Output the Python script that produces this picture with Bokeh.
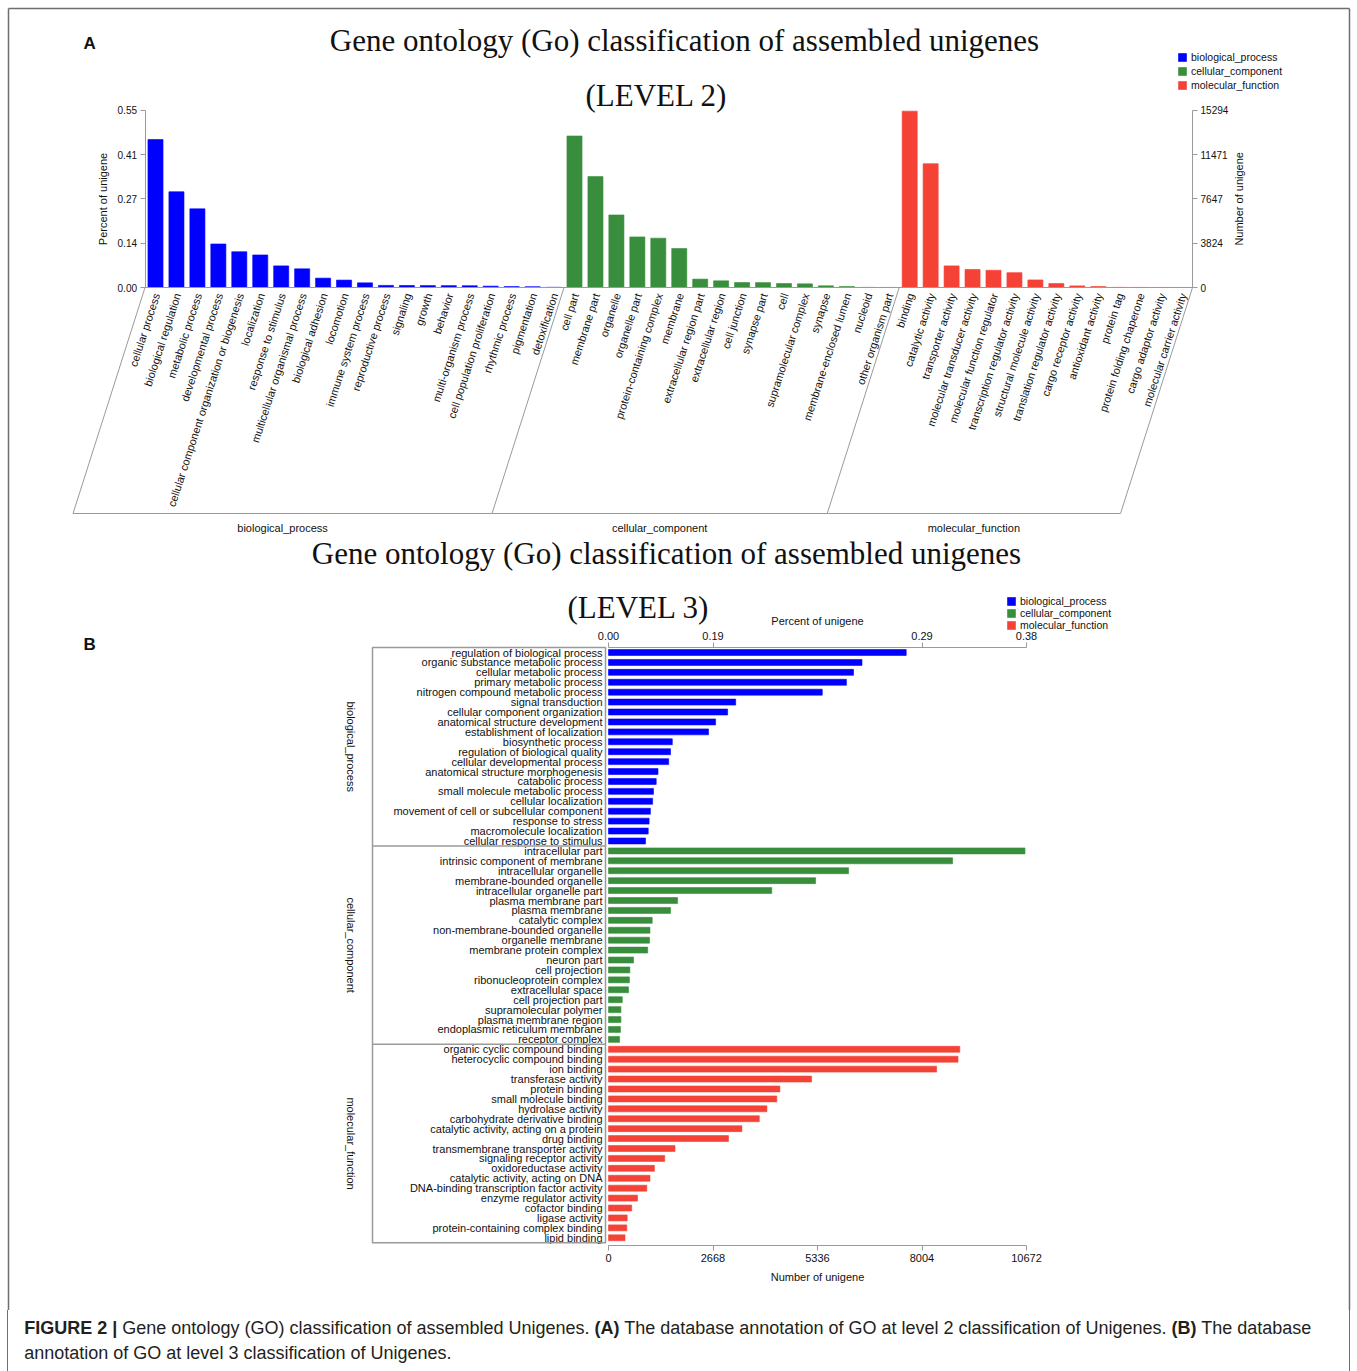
import numpy as np
from bokeh.plotting import figure
from bokeh.models import (Range1d, LinearAxis, FixedTicker, ColumnDataSource,
                          Legend, LegendItem, Div)
from bokeh.layouts import column
from bokeh.embed import file_html
from bokeh.resources import INLINE
from bokeh.core.properties import value

# ------------------------------------------------------------------ data
group_names = ["biological_process", "cellular_component", "molecular_function"]

# Level 2 (percent of unigene)
l2_bp_terms = ["cellular process", "biological regulation", "metabolic process",
               "developmental process", "cellular component organization or biogenesis",
               "localization", "response to stimulus", "multicellular organismal process",
               "biological adhesion", "locomotion", "immune system process",
               "reproductive process", "signaling", "growth", "behavior",
               "multi-organism process", "cell population proliferation",
               "rhythmic process", "pigmentation", "detoxification"]
l2_bp_pct = [0.459, 0.297, 0.244, 0.135, 0.111, 0.101, 0.067, 0.058, 0.029, 0.023,
             0.0145, 0.0065, 0.0063, 0.006, 0.0058, 0.0055, 0.0042, 0.003, 0.0025, 0.0006]

l2_cc_terms = ["cell part", "membrane part", "organelle", "organelle part",
               "protein-containing complex", "membrane", "extracellular region part",
               "extracellular region", "cell junction", "synapse part", "cell",
               "supramolecular complex", "synapse", "membrane-enclosed lumen",
               "nucleoid", "other organism part"]
l2_cc_pct = [0.470, 0.344, 0.225, 0.157, 0.153, 0.121, 0.026, 0.0207, 0.0155, 0.0152,
             0.0124, 0.0114, 0.0053, 0.0031, 0.0004, 0.0002]

l2_mf_terms = ["binding", "catalytic activity", "transporter activity",
               "molecular transducer activity", "molecular function regulator",
               "transcription regulator activity", "structural molecule activity",
               "translation regulator activity", "cargo receptor activity",
               "antioxidant activity", "protein tag", "protein folding chaperone",
               "cargo adaptor activity", "molecular carrier activity"]
l2_mf_pct = [0.547, 0.384, 0.067, 0.056, 0.0535, 0.046, 0.0235, 0.0124, 0.005, 0.003,
             0.0004, 0.0003, 0.0002, 0.0001]

l2_pct_ticks = [0.0, 0.1375, 0.275, 0.4125, 0.55]
l2_pct_tick_labels = ["0.00", "0.14", "0.27", "0.41", "0.55"]
l2_count_ticks = [0, 3824, 7647, 11471, 15294]

# Level 3 (number of unigene)
l3_bp_terms = ["regulation of biological process", "organic substance metabolic process",
               "cellular metabolic process", "primary metabolic process",
               "nitrogen compound metabolic process", "signal transduction",
               "cellular component organization", "anatomical structure development",
               "establishment of localization", "biosynthetic process",
               "regulation of biological quality", "cellular developmental process",
               "anatomical structure morphogenesis", "catabolic process",
               "small molecule metabolic process", "cellular localization",
               "movement of cell or subcellular component", "response to stress",
               "macromolecule localization", "cellular response to stimulus"]
l3_bp_counts = [7601, 6472, 6255, 6074, 5458, 3247, 3041, 2734, 2553, 1629,
                1583, 1537, 1264, 1218, 1149, 1126, 1070, 1037, 1014, 945]

l3_cc_terms = ["intracellular part", "intrinsic component of membrane",
               "intracellular organelle", "membrane-bounded organelle",
               "intracellular organelle part", "plasma membrane part", "plasma membrane",
               "catalytic complex", "non-membrane-bounded organelle", "organelle membrane",
               "membrane protein complex", "neuron part", "cell projection",
               "ribonucleoprotein complex", "extracellular space", "cell projection part",
               "supramolecular polymer", "plasma membrane region",
               "endoplasmic reticulum membrane", "receptor complex"]
l3_cc_counts = [10633, 8785, 6130, 5287, 4169, 1764, 1583, 1116, 1059, 1047,
                1001, 638, 546, 534, 511, 352, 317, 317, 306, 283]

l3_mf_terms = ["organic cyclic compound binding", "heterocyclic compound binding",
               "ion binding", "transferase activity", "protein binding",
               "small molecule binding", "hydrolase activity",
               "carbohydrate derivative binding", "catalytic activity, acting on a protein",
               "drug binding", "transmembrane transporter activity",
               "signaling receptor activity", "oxidoreductase activity",
               "catalytic activity, acting on DNA",
               "DNA-binding transcription factor activity", "enzyme regulator activity",
               "cofactor binding", "ligase activity", "protein-containing complex binding",
               "lipid binding"]
l3_mf_counts = [8969, 8923, 8377, 5185, 4376, 4297, 4044, 3850, 3406, 3064,
                1698, 1435, 1172, 1059, 978, 740, 592, 477, 467, 421]

l3_count_ticks = [0, 2668, 5336, 8004, 10672]
l3_pct_ticks = [0.0, 0.095, 0.285, 0.38]
l3_pct_tick_labels = ["0.00", "0.19", "0.29", "0.38"]

title_text = "Gene ontology (Go) classification of assembled unigenes"

# ------------------------------------------------------------------ style / layout
W, H = 1357, 1310
COLORS = ["#0000FF", "#388E3C", "#F44336"]
GREY = "#9a9a9a"
FRAME = "#6e6e6e"
SANS = "Liberation Sans"
SERIF = "Liberation Serif"

p = figure(width=W, height=H, x_range=Range1d(0, W), y_range=Range1d(H, 0),
           x_axis_type=None, y_axis_type=None, output_backend="svg",
           toolbar_location=None, min_border=0, outline_line_color=None,
           background_fill_color="white", border_fill_color="white")

# outer frame of the figure (open at the bottom, continues around the caption)
p.segment(x0=[8, 8, 1349], y0=[8, 8, 8], x1=[1349, 8, 1349], y1=[8, H, H],
          line_color=FRAME, line_width=1.5)


def style_axis(ax, label_size="10px"):
    ax.axis_line_color = GREY
    ax.major_tick_line_color = GREY
    ax.minor_tick_line_color = None
    ax.major_tick_out = 5
    ax.major_tick_in = 0
    ax.major_label_text_font = SANS
    ax.major_label_text_font_size = label_size
    ax.major_label_text_color = "#111111"
    ax.major_label_standoff = 3
    ax.axis_label_text_font = SANS
    ax.axis_label_text_font_size = "11px"
    ax.axis_label_text_font_style = "normal"
    ax.axis_label_text_color = "#111111"


# ================================================================ panel A
A_x0, A_dx = 155.0, 20.95        # px of first category centre, px per category
A_y0, A_ppu = 287.0, 322.4       # px of zero, px per unit of percent
A_ybot_px, A_skew_px = 513.0, 72.0

pct_lo, pct_hi = (A_y0 - H) / A_ppu, A_y0 / A_ppu
kA = l2_count_ticks[-1] / l2_pct_ticks[-1]
p.extra_x_ranges = {"catA": Range1d(-A_x0 / A_dx, (W - A_x0) / A_dx)}
p.extra_y_ranges = {"pctA": Range1d(pct_lo, pct_hi),
                    "cntA": Range1d(pct_lo * kA, pct_hi * kA)}

l2_groups = [(l2_bp_terms, l2_bp_pct), (l2_cc_terms, l2_cc_pct), (l2_mf_terms, l2_mf_pct)]
rendA = []
bnd = [-0.5]
off = 0
for (terms, vals), col in zip(l2_groups, COLORS):
    xs = list(range(off, off + len(terms)))
    src = ColumnDataSource(dict(x=xs, top=vals, label=terms, y=[0.0] * len(xs)))
    r = p.vbar(x="x", top="top", bottom=0, width=0.72, source=src, fill_color=col,
               line_color=col, line_alpha=0.6, x_range_name="catA", y_range_name="pctA")
    rendA.append(r)
    p.text(x="x", y="y", text="label", source=src, angle=np.deg2rad(72),
           text_align="right", text_baseline="middle", x_offset=1, y_offset=6,
           text_font=value(SANS), text_font_size="11px", text_color="#111111",
           x_range_name="catA", y_range_name="pctA")
    off += len(terms)
    bnd.append(off - 0.5)

yb = (A_y0 - A_ybot_px) / A_ppu
sk = A_skew_px / A_dx
p.segment(x0=bnd, y0=[0.0] * len(bnd), x1=[b - sk for b in bnd], y1=[yb] * len(bnd),
          line_color=GREY, line_width=1, x_range_name="catA", y_range_name="pctA")
p.segment(x0=[bnd[0], bnd[0] - sk], y0=[0.0, yb], x1=[bnd[-1], bnd[-1] - sk], y1=[0.0, yb],
          line_color=GREY, line_width=1, x_range_name="catA", y_range_name="pctA")
p.text(x=[(bnd[i] + bnd[i + 1]) / 2 - sk for i in range(3)], y=[yb] * 3, text=group_names,
       y_offset=14, text_align="center", text_baseline="middle",
       text_font=value(SANS), text_font_size="11px", text_color="#111111",
       x_range_name="catA", y_range_name="pctA")

axL = LinearAxis(x_range_name="catA", y_range_name="pctA", fixed_location=bnd[0],
                 bounds=(0, l2_pct_ticks[-1]), ticker=FixedTicker(ticks=l2_pct_ticks),
                 major_label_overrides=dict(zip(l2_pct_ticks, l2_pct_tick_labels)),
                 axis_label="Percent of unigene", axis_label_standoff=6)
style_axis(axL)
p.add_layout(axL, "left")

axR = LinearAxis(x_range_name="catA", y_range_name="cntA", fixed_location=bnd[-1],
                 bounds=(0, l2_count_ticks[-1]), ticker=FixedTicker(ticks=l2_count_ticks))
style_axis(axR)
p.add_layout(axR, "right")
p.text(x=[bnd[-1]], y=[l2_pct_ticks[-1] / 2], text=["Number of unigene"], x_offset=46,
       angle=np.pi / 2, text_align="center", text_baseline="middle",
       text_font=value(SANS), text_font_size="11px", text_color="#111111",
       x_range_name="catA", y_range_name="pctA")

legA = Legend(items=[LegendItem(label=n, renderers=[r]) for n, r in zip(group_names, rendA)],
              location=(1177, H - 92))

# ================================================================ panel B
B_x0 = 608.0
B_ppc = 418.0 / l3_count_ticks[-1]
B_y0, B_dy = 652.0, 9.92
kB = l3_pct_ticks[-1] / l3_count_ticks[-1]
cnt_lo, cnt_hi = -B_x0 / B_ppc, (W - B_x0) / B_ppc
p.extra_x_ranges["cntB"] = Range1d(cnt_lo, cnt_hi)
p.extra_x_ranges["pctB"] = Range1d(cnt_lo * kB, cnt_hi * kB)
p.extra_y_ranges["rowB"] = Range1d((H - B_y0) / B_dy, -B_y0 / B_dy)

l3_groups = [(l3_bp_terms, l3_bp_counts), (l3_cc_terms, l3_cc_counts),
             (l3_mf_terms, l3_mf_counts)]
rendB = []
rbnd = [-0.5]
off = 0
for (terms, vals), col in zip(l3_groups, COLORS):
    ys = list(range(off, off + len(terms)))
    src = ColumnDataSource(dict(y=ys, right=vals, label=terms, x=[0] * len(ys)))
    r = p.hbar(y="y", right="right", left=0, height=0.6, source=src, fill_color=col,
               line_color=col, line_alpha=0.6, x_range_name="cntB", y_range_name="rowB")
    rendB.append(r)
    p.text(x="x", y="y", text="label", source=src, x_offset=-6, text_align="right",
           text_baseline="middle", text_font=value(SANS), text_font_size="11px",
           text_color="#111111", x_range_name="cntB", y_range_name="rowB")
    off += len(terms)
    rbnd.append(off - 0.5)

# label box with group separators
BOX_L, BOX_R = 372, 605
p.quad(left=[BOX_L], right=[BOX_R], top=[rbnd[0]], bottom=[rbnd[-1]], fill_color=None,
       line_color=GREY, line_width=1.5, y_range_name="rowB")
p.segment(x0=[BOX_L] * 2, x1=[BOX_R] * 2, y0=rbnd[1:3], y1=rbnd[1:3], line_color=GREY,
          line_width=1.5, y_range_name="rowB")
p.text(x=[350] * 3, y=[(rbnd[i] + rbnd[i + 1]) / 2 for i in range(3)], text=group_names,
       angle=-np.pi / 2, text_align="center", text_baseline="middle",
       text_font=value(SANS), text_font_size="11px", text_color="#111111",
       y_range_name="rowB")

axB = LinearAxis(x_range_name="cntB", y_range_name="rowB", fixed_location=rbnd[-1] + 0.3,
                 bounds=(0, l3_count_ticks[-1]), ticker=FixedTicker(ticks=l3_count_ticks),
                 axis_label="Number of unigene", axis_label_standoff=6)
style_axis(axB, "11px")
p.add_layout(axB, "below")

axT = LinearAxis(x_range_name="pctB", y_range_name="rowB", fixed_location=rbnd[0],
                 bounds=(0, l3_pct_ticks[-1]), ticker=FixedTicker(ticks=l3_pct_ticks),
                 major_label_overrides=dict(zip(l3_pct_ticks, l3_pct_tick_labels)),
                 axis_label="Percent of unigene", axis_label_standoff=2)
style_axis(axT, "11px")
p.add_layout(axT, "above")

legB = Legend(items=[LegendItem(label=n, renderers=[r]) for n, r in zip(group_names, rendB)],
              location=(1006, H - 631))

for lg, lh in ((legA, 14), (legB, 12)):
    lg.glyph_width = 10
    lg.glyph_height = 10
    lg.label_height = lh
    lg.label_standoff = 4
    lg.spacing = 0
    lg.padding = 0
    lg.margin = 0
    lg.border_line_color = None
    lg.background_fill_alpha = 0
    lg.label_text_font = SANS
    lg.label_text_font_size = "10.5px"
    lg.label_text_color = "#111111"
    lg.label_text_baseline = "middle"
    p.add_layout(lg)

# ================================================================ titles
p.text(x=[684, 656, 666, 638], y=[40, 95, 553, 607],
       text=[title_text, "(LEVEL 2)", title_text, "(LEVEL 3)"],
       text_align="center", text_baseline="middle", text_font=value(SERIF),
       text_font_size="31px", text_color="#111111")
p.text(x=[83, 83], y=[43, 644], text=["A", "B"], text_align="left", text_baseline="middle",
       text_font=value(SANS), text_font_size="17px", text_font_style="bold",
       text_color="#111111")

caption = Div(
    text=('<div style="box-sizing:border-box;margin-left:7.25px;width:1342.5px;height:61px;'
          'border-left:1.5px solid ' + FRAME + ';border-right:1.5px solid ' + FRAME + ';'
          'font-family:\'Liberation Sans\',Arial,sans-serif;font-size:18px;'
          'line-height:25px;color:#231f20;padding:6px 0 0 16px;white-space:nowrap;">'
          '<b>FIGURE 2 |</b> Gene ontology (GO) classification of assembled Unigenes. '
          '<b>(A)</b> The database annotation of GO at level 2 classification of Unigenes. '
          '<b>(B)</b> The database<br>annotation of GO at level 3 classification of Unigenes.'
          '</div>'),
    width=W, height=1371 - H, margin=(0, 0, 0, 0))

layout = column(p, caption, spacing=0)
open("out.html", "w").write(file_html(layout, INLINE))
